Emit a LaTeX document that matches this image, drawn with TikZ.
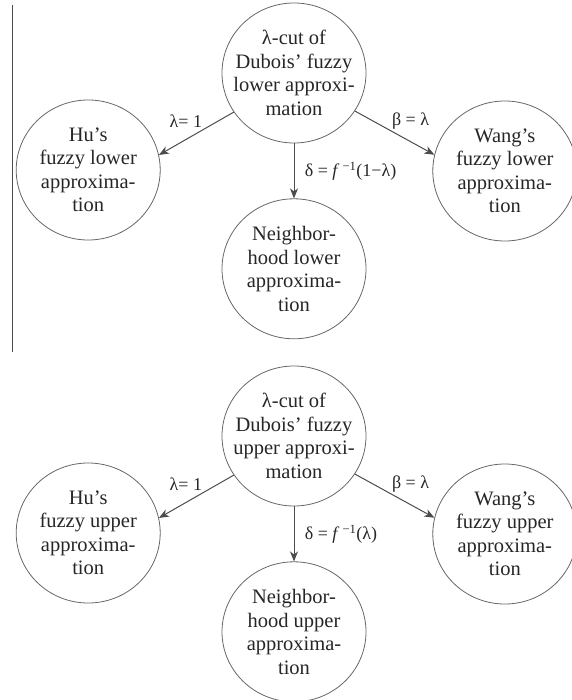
\documentclass[tikz,border=0pt]{standalone}
\usepackage{fontspec}
\setmainfont{Liberation Serif}
\usetikzlibrary{arrows.meta, positioning, shapes.geometric}

\begin{document}
\begin{tikzpicture}[
          x=1pt, y=-1pt,
          node distance = 55pt and 61pt,
          apx/.style = {draw=black!60, ellipse, line width=0.8pt,
                        minimum width=144pt, minimum height=140pt,
                        inner sep=0pt},
          txt/.style = {align=center, text=black!85, inner sep=0pt,
                        font=\fontsize{20.5}{23.5}\selectfont},
          lab/.style = {text=black!85, font=\fontsize{18}{20}\selectfont},
          link/.style = {->, draw=black!70, line width=1pt},
          >={Stealth[length=10pt, width=8pt, inset=3pt]}]
        \useasboundingbox (0,0) rectangle (571,700);
        \draw[black!70, line width=1.4pt] (12.7,5) -- (12.7,352);

        \node[apx, label={[txt]center:λ-cut of\\Dubois’ fuzzy\\lower approxi-\\mation}] (cutL) at (294,73) {};
        \node[apx, left=61pt of cutL, yshift=-97pt,
              label={[txt]center:Hu’s\\fuzzy lower\\approxima-\\tion}] (huL) {};
        \node[apx, right=66pt of cutL, yshift=-98pt,
              label={[txt]center:Wang’s\\fuzzy lower\\approxima-\\tion}] (wgL) {};
        \node[apx, below=of cutL,
              label={[txt]center:Neighbor-\\hood lower\\approxima-\\tion}] (nbL) {};
        \draw[link] (cutL.213) -- (huL.12) node[pos=0.64, above=8pt, lab] {λ= 1};
        \draw[link] (cutL.328) -- (wgL.167) node[pos=0.7, above=8pt, lab] {β = λ};
        \draw[link] (cutL.south) -- (nbL.north)
              node[midway, right=7pt, lab] {δ = \textit{f}\,\textsuperscript{−1}(1−λ)};

        \node[apx, label={[txt]center:λ-cut of\\Dubois’ fuzzy\\upper approxi-\\mation}] (cutU) at (294,436) {};
        \node[apx, left=61pt of cutU, yshift=-97pt,
              label={[txt]center:Hu’s\\fuzzy upper\\approxima-\\tion}] (huU) {};
        \node[apx, right=66pt of cutU, yshift=-98pt,
              label={[txt]center:Wang’s\\fuzzy upper\\approxima-\\tion}] (wgU) {};
        \node[apx, below=of cutU,
              label={[txt]center:Neighbor-\\hood upper\\approxima-\\tion}] (nbU) {};
        \draw[link] (cutU.213) -- (huU.12) node[pos=0.64, above=8pt, lab] {λ= 1};
        \draw[link] (cutU.328) -- (wgU.167) node[pos=0.7, above=8pt, lab] {β = λ};
        \draw[link] (cutU.south) -- (nbU.north)
              node[midway, right=7pt, lab] {δ = \textit{f}\,\textsuperscript{−1}(λ)};
      \end{tikzpicture}
\end{document}
